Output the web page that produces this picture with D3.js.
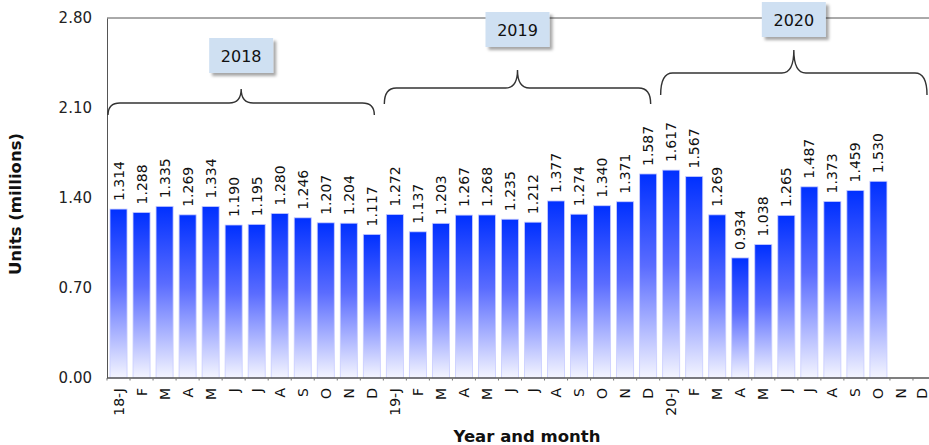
<!DOCTYPE html>
<html>
<head>
<meta charset="utf-8">
<script src="https://cdn.jsdelivr.net/npm/d3@7"></script>
<style>
  html, body { margin: 0; padding: 0; background: #fff; }
  svg { display: block; font-family: "DejaVu Sans", sans-serif; }
</style>
</head>
<body>
<svg id="chart" width="929" height="445"></svg>
<script>
const categories = ["18-J","F","M","A","M","J","J","A","S","O","N","D",
                    "19-J","F","M","A","M","J","J","A","S","O","N","D",
                    "20-J","F","M","A","M","J","J","A","S","O","N","D"];
const values = [1.314,1.288,1.335,1.269,1.334,1.190,1.195,1.280,1.246,1.207,1.204,1.117,
                1.272,1.137,1.203,1.267,1.268,1.235,1.212,1.377,1.274,1.340,1.371,1.587,
                1.617,1.567,1.269,0.934,1.038,1.265,1.487,1.373,1.459,1.530,null,null];
const yTicks = [0, 0.70, 1.40, 2.10, 2.80];
const years = ["2018","2019","2020"];
const yearStart = [0, 12, 24];
const yearEnd = [11, 23, 35];

const W = 929, H = 445;
const svg = d3.select("#chart");
const idx = d3.range(categories.length);

const x = d3.scaleBand().domain(idx).range([107, 936]).paddingInner(0.26).paddingOuter(0.13);
const y = d3.scaleLinear().domain([0, 2.8]).range([378, 18]);

const defs = svg.append("defs");
const grad = defs.append("linearGradient").attr("id", "barGrad")
  .attr("x1", 0).attr("y1", 0).attr("x2", 0).attr("y2", 1);
grad.append("stop").attr("offset", "0%").attr("stop-color", "#0030ff");
grad.append("stop").attr("offset", "45%").attr("stop-color", "#5a6cff");
grad.append("stop").attr("offset", "100%").attr("stop-color", "#f4f5ff");

const shadow = defs.append("filter").attr("id", "shadow").attr("x", "-20%").attr("y", "-20%").attr("width", "150%").attr("height", "160%");
shadow.append("feDropShadow").attr("dx", 3).attr("dy", 3).attr("stdDeviation", 1.5)
  .attr("flood-color", "#000").attr("flood-opacity", 0.35);

// top border line
svg.append("line").attr("x1", 107).attr("x2", W).attr("y1", y(2.8)).attr("y2", y(2.8))
  .attr("stroke", "#555").attr("stroke-width", 1);

// bars
const data = idx.filter(i => values[i] != null);
svg.append("g").selectAll("rect").data(data).join("rect")
  .attr("x", i => x(i))
  .attr("y", i => y(values[i]))
  .attr("width", x.bandwidth())
  .attr("height", i => y(0) - y(values[i]))
  .attr("fill", "url(#barGrad)")
  .attr("stroke", "#c8ccff").attr("stroke-width", 0.8);

// value labels
svg.append("g").selectAll("text").data(data).join("text")
  .attr("transform", i => `translate(${x(i) + x.bandwidth() / 2 + 5},${y(values[i]) - 8}) rotate(-90)`)
  .attr("text-anchor", "start")
  .attr("font-size", 14)
  .attr("fill", "#111")
  .text(i => values[i].toFixed(3));

// y axis
const yAxis = d3.axisLeft(y).tickValues(yTicks).tickFormat(d3.format(".2f")).tickSize(0).tickPadding(15);
const gy = svg.append("g").attr("transform", "translate(107,0)").call(yAxis);
gy.select(".domain").attr("stroke", "#555");
gy.selectAll("text").attr("font-size", 15).attr("fill", "#222").attr("font-family", "DejaVu Sans, sans-serif");

// x axis
const xAxis = d3.axisBottom(x).tickFormat(i => categories[i]).tickSize(0).tickPadding(0);
const gx = svg.append("g").attr("transform", "translate(0,378)").call(xAxis);
gx.select(".domain").remove();
gx.selectAll(".tick").attr("transform", i => {
  const cx = Math.min(x(i) + x.bandwidth() / 2, W - 7);
  return `translate(${cx},0)`;
});
gx.selectAll("text")
  .attr("font-size", 14).attr("fill", "#111").attr("font-family", "DejaVu Sans, sans-serif")
  .attr("text-anchor", "end")
  .attr("transform", "translate(5,10) rotate(-90)")
  .attr("x", 0).attr("y", 0).attr("dy", 0);
svg.append("line").attr("x1", 107).attr("x2", W).attr("y1", 378).attr("y2", 378)
  .attr("stroke", "#555").attr("stroke-width", 1.5);
// small boundary ticks
svg.append("g").selectAll("line").data(idx).join("line")
  .attr("x1", i => x(i) - (x.step() - x.bandwidth()) / 2)
  .attr("x2", i => x(i) - (x.step() - x.bandwidth()) / 2)
  .attr("y1", 378).attr("y2", 380.5).attr("stroke", "#777").attr("stroke-width", 1);

// axis titles
svg.append("text").attr("transform", "translate(21,204) rotate(-90)")
  .attr("text-anchor", "middle").attr("font-size", 16.5).attr("font-weight", "bold").attr("fill", "#111")
  .text("Units (millions)");
svg.append("text").attr("x", 527).attr("y", 442)
  .attr("text-anchor", "middle").attr("font-size", 16.5).attr("font-weight", "bold").attr("fill", "#111")
  .text("Year and month");

// braces and year boxes
const braceLevel = [103, 88, 73];
const braceDrop = [12, 16, 22];
const tipRise = [14, 18, 23];
const boxTops = [38, 12, 2];
function bracePath(x0, x1, yb, drop, rise) {
  const xm = (x0 + x1) / 2;
  const r = 12;
  return `M${x0},${yb + drop} Q${x0},${yb} ${x0 + r},${yb} L${xm - 12},${yb} Q${xm},${yb} ${xm},${yb - rise}` +
         ` Q${xm},${yb} ${xm + 12},${yb} L${x1 - r},${yb} Q${x1},${yb} ${x1},${yb + drop}`;
}
years.forEach((yr, k) => {
  const x0 = x(yearStart[k]) - 2;
  const x1 = Math.min(x(yearEnd[k]) + x.bandwidth() - 6, W - 1);
  svg.append("path").attr("d", bracePath(x0, x1, braceLevel[k], braceDrop[k], tipRise[k]))
    .attr("fill", "none").attr("stroke", "#333").attr("stroke-width", 1.4);
  const xm = (x0 + x1) / 2;
  const g = svg.append("g");
  g.append("rect").attr("x", xm - 32).attr("y", boxTops[k]).attr("width", 64).attr("height", 35)
    .attr("fill", "#cfe0f2").attr("filter", "url(#shadow)");
  g.append("text").attr("x", xm).attr("y", boxTops[k] + 24).attr("text-anchor", "middle")
    .attr("font-size", 16).attr("fill", "#111").text(yr);
});
</script>
</body>
</html>
